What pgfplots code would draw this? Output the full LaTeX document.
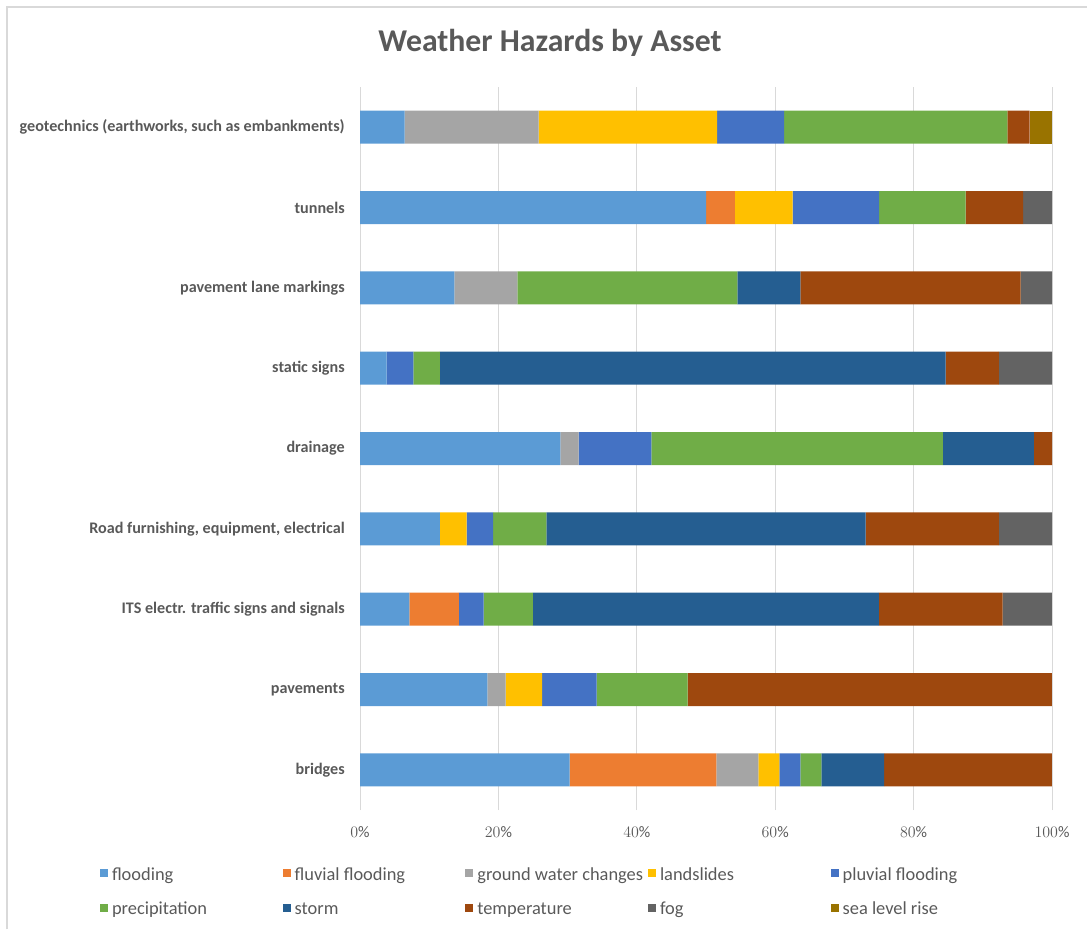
\documentclass[border=0pt]{standalone}
\usepackage{fontspec}
\setmainfont{Carlito}
\usepackage{pgfplots}
\usepackage{pgfplotstable}
\pgfplotsset{compat=1.18}
\definecolor{cFlood}{HTML}{5B9BD5}
\definecolor{cFluv}{HTML}{ED7D31}
\definecolor{cGw}{HTML}{A5A5A5}
\definecolor{cLand}{HTML}{FFC000}
\definecolor{cPluv}{HTML}{4472C4}
\definecolor{cPrec}{HTML}{70AD47}
\definecolor{cStorm}{HTML}{255E91}
\definecolor{cTemp}{HTML}{9E480E}
\definecolor{cFog}{HTML}{636363}
\definecolor{cSea}{HTML}{997300}
\definecolor{txt}{HTML}{595959}
\definecolor{gridc}{HTML}{D9D9D9}

\pgfplotstableread{
y flood fluv gw land pluv prec storm temp fog sea
0 30.30 21.21 6.06 3.03 3.03 3.03 9.09 24.24 0 0
1 18.42 0 2.63 5.26 7.89 13.16 0 52.63 0 0
2 7.14 7.14 0 0 3.57 7.14 50.00 17.86 7.14 0
3 11.54 0 0 3.85 3.85 7.69 46.15 19.23 7.69 0
4 28.95 0 2.63 0 10.53 42.11 13.16 2.63 0 0
5 3.85 0 0 0 3.85 3.85 73.08 7.69 7.69 0
6 13.64 0 9.09 0 0 31.82 9.09 31.82 4.55 0
7 50.00 4.17 0 8.33 12.50 12.50 0 8.33 4.17 0
8 6.45 0 19.35 25.81 9.68 32.26 0 3.23 0 3.23
}\data

\newcommand{\lgbox}[1]{\makebox[128pt][l]{#1}}

\begin{document}
\begin{tikzpicture}
\path[use as bounding box] (0pt,0pt) rectangle (815.25pt,-696.75pt);
\draw[gridc, line width=1.5pt] (5.25pt,-697pt) -- (5.25pt,-5.25pt) -- (816pt,-5.25pt);
\node[font=\fontsize{23.8}{28}\selectfont\bfseries, text=txt] at (412.5pt,-32.5pt) {Weather Hazards by Asset};
\begin{axis}[
  at={(270pt,-607.5pt)}, anchor=south west,
  scale only axis, width=519pt, height=542.25pt,
  xbar stacked, bar width=24.75pt,
  xmin=0, xmax=100, ymin=-0.5, ymax=8.5,
  xtick={0,20,...,100},
  xticklabel={$\pgfmathprintnumber{\tick}\%$},
  ytick={0,...,8},
  yticklabels={bridges, pavements, ITS electr. traffic signs and signals, {Road furnishing, equipment, electrical}, drainage, static signs, pavement lane markings, tunnels, {geotechnics (earthworks, such as embankments)}},
  major tick length=0pt,
  axis lines*=left, separate axis lines,
  x axis line style={draw=none},
  y axis line style={draw=gridc, line width=0.75pt},
  xmajorgrids, major grid style={draw=gridc, line width=0.75pt},
  xticklabel style={font=\fontsize{12}{14}\selectfont, text=txt, inner sep=0pt, yshift=-12.5pt},
  yticklabel style={font=\fontsize{12.1}{14}\selectfont\bfseries, text=txt, inner sep=0pt, xshift=-11.25pt},
  legend columns=5,
  legend image code/.code={\fill[#1] (0pt,-1pt) rectangle (6pt,5pt);},
  legend style={at={(-0.3757,-0.0795)}, anchor=north west, draw=none, fill=none,
    inner sep=0pt, outer sep=0pt,
    font=\fontsize{13.8}{16}\selectfont, text=txt,
    nodes={inner sep=0pt, text height=9.5pt, text depth=3pt},
    row sep=13.3pt,
    /tikz/every odd column/.append style={column sep=3pt}},
]
\addplot[fill=cFlood, draw=none] table[x=flood,y=y]{\data};
\addplot[fill=cFluv, draw=none] table[x=fluv,y=y]{\data};
\addplot[fill=cGw, draw=none] table[x=gw,y=y]{\data};
\addplot[fill=cLand, draw=none] table[x=land,y=y]{\data};
\addplot[fill=cPluv, draw=none] table[x=pluv,y=y]{\data};
\addplot[fill=cPrec, draw=none] table[x=prec,y=y]{\data};
\addplot[fill=cStorm, draw=none] table[x=storm,y=y]{\data};
\addplot[fill=cTemp, draw=none] table[x=temp,y=y]{\data};
\addplot[fill=cFog, draw=none] table[x=fog,y=y]{\data};
\addplot[fill=cSea, draw=none] table[x=sea,y=y]{\data};
\legend{\lgbox{flooding},\lgbox{fluvial flooding},\lgbox{ground water changes},\lgbox{landslides},\lgbox{pluvial flooding},\lgbox{precipitation},\lgbox{storm},\lgbox{temperature},\lgbox{fog},\lgbox{sea level rise}}
\end{axis}
\end{tikzpicture}
\end{document}
